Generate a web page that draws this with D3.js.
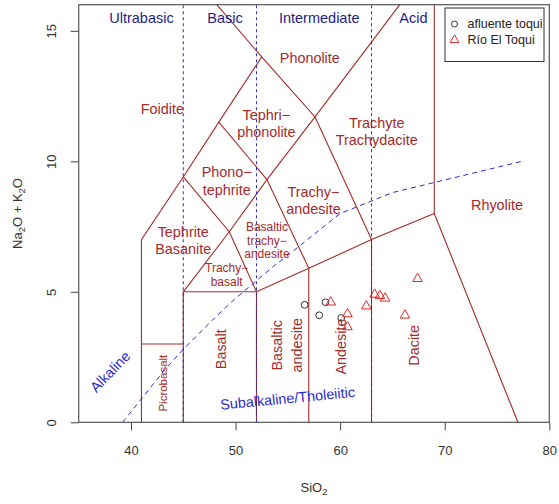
<!DOCTYPE html>
<html>
<head>
<meta charset="utf-8">
<script src="https://cdn.jsdelivr.net/npm/d3@7"></script>
<style>
  body { margin: 0; background: #fff; }
  svg { display: block; font-family: "Liberation Sans", Arial, Helvetica, sans-serif; }
</style>
</head>
<body>
<svg id="chart" width="559" height="504"></svg>
<script>
// samples (SiO2 vs total alkalis)
var afluenteSiO2 = [56.6, 58.0, 58.6, 60.1];
var afluenteAlk  = [4.5, 4.1, 4.6, 4.0];
var toquiSiO2 = [59.1, 60.7, 60.7, 62.5, 63.3, 63.8, 64.3, 66.2, 67.4];
var toquiAlk  = [4.6, 4.15, 3.65, 4.45, 4.9, 4.85, 4.75, 4.1, 5.5];
var seriesNames = ['afluente toqui', 'Río El Toqui'];

var xTicks = [40, 50, 60, 70, 80];
var yTicks = [0, 5, 10, 15];

// TAS field boundaries (Le Bas et al. 1986)
var fieldLines = [
  [[41, 0], [41, 7], [45, 9.4], [48.4, 11.5], [52.5, 14]],
  [[48.2, 16], [52.5, 14], [57.6, 11.7], [63, 7]],
  [[41, 3], [45, 3]],
  [[45, 0], [45, 5], [52, 5], [52, 0]],
  [[52, 5], [57, 5.9], [63, 7], [69, 8], [77, 0]],
  [[57, 0], [57, 5.9]],
  [[63, 0], [63, 7]],
  [[45, 5], [49.4, 7.3], [53, 9.3], [57.6, 11.7], [65.7, 16]],
  [[45, 9.4], [49.4, 7.3], [52, 5]],
  [[48.4, 11.5], [53, 9.3], [57, 5.9]],
  [[69, 8], [69, 16]]
];

// Irvine & Baragar alkaline / subalkaline divide
var divideSiO2 = [39.2, 40, 43.2, 45, 48, 50, 53.7, 55, 60, 65, 77.4];
var divideAlk  = [0, 0.4, 2, 2.8, 4, 4.75, 6, 6.4, 8, 8.8, 10];

var silicaLimits = [45, 52, 63];
var silicaGroups = ['Ultrabasic', 'Basic', 'Intermediate', 'Acid'];
var silicaGroupX = [41, 49, 58, 67];

// field names: lines, SiO2, alkalis
var fieldLabels = [
  [['Foidite'], 43, 12],
  [['Phonolite'], 57.1, 13.95],
  [['Tephri\u2212', 'phonolite'], 52.95, 11.45],
  [['Phono\u2212', 'tephrite'], 49.15, 9.25],
  [['Trachyte', 'Trachydacite'], 63.5, 11.15],
  [['Trachy\u2212', 'andesite'], 57.45, 8.5],
  [['Rhyolite'], 75, 8.33],
  [['Tephrite', 'Basanite'], 45, 6.97],
  [['Basaltic', 'trachy\u2212', 'andesite'], 53, 6.97],
  [['Trachy\u2212', 'basalt'], 49.15, 5.65]
];
var smallFields = [8, 9];   // indexes into fieldLabels drawn smaller

var verticalLabels = [
  ['Picrobasalt', 43.1, 1.5],
  ['Basalt', 48.6, 2.8],
  ['Basaltic', 53.95, 2.95],
  ['andesite', 55.85, 2.95],
  ['Andesite', 60.1, 2.9],
  ['Dacite', 67.1, 2.95]
];

var brown = '#a52a2a',
    navy = '#1e1e8c',
    blue = '#2a2ad0',
    red = '#e02828',
    ink = '#333';

var svg = d3.select('#chart');

var x = d3.scaleLinear().domain([35, 80]).range([78.7, 549.3]);
var y = d3.scaleLinear().domain([0, 16]).range([422.3, 4.7]);

var line = d3.line()
    .x(function (d) { return x(d[0]); })
    .y(function (d) { return y(d[1]); });

// field boundaries
svg.append('g')
    .attr('class', 'fields')
    .selectAll('path')
    .data(fieldLines)
    .join('path')
    .attr('d', line)
    .attr('fill', 'none')
    .attr('stroke', brown)
    .attr('stroke-width', 1.1);

// silica class limits
svg.append('g')
    .selectAll('line')
    .data(silicaLimits)
    .join('line')
    .attr('x1', function (d) { return x(d); })
    .attr('x2', function (d) { return x(d); })
    .attr('y1', y(0))
    .attr('y2', y(16))
    .attr('stroke', blue)
    .attr('stroke-width', 1)
    .attr('stroke-dasharray', '3,3');

// alkaline divide
svg.append('path')
    .datum(d3.zip(divideSiO2, divideAlk))
    .attr('d', line)
    .attr('fill', 'none')
    .attr('stroke', blue)
    .attr('stroke-width', 1)
    .attr('stroke-dasharray', '5,4');

// group names along the top
svg.append('g')
    .selectAll('text')
    .data(silicaGroups)
    .join('text')
    .attr('x', function (d, i) { return x(silicaGroupX[i]); })
    .attr('y', y(15.5))
    .attr('dy', '0.35em')
    .attr('text-anchor', 'middle')
    .attr('font-size', 14.5)
    .attr('fill', navy)
    .text(function (d) { return d; });

// field names
var fl = svg.append('g').attr('class', 'field-labels');
fieldLabels.forEach(function (f, k) {
  var small = smallFields.indexOf(k) >= 0;
  var size = small ? 12 : 14.4;
  var step = small ? 13.5 : 17.3;
  var t = fl.append('text')
      .attr('x', x(f[1]))
      .attr('y', y(f[2]) - (f[0].length - 1) * step / 2)
      .attr('text-anchor', 'middle')
      .attr('font-size', size)
      .attr('fill', brown);
  f[0].forEach(function (s, i) {
    t.append('tspan')
        .attr('x', x(f[1]))
        .attr('dy', i === 0 ? '0.35em' : step)
        .text(s);
  });
});

fl.selectAll('text.vert')
    .data(verticalLabels)
    .join('text')
    .attr('class', 'vert')
    .attr('transform', function (d) {
      return 'translate(' + x(d[1]) + ',' + y(d[2]) + ') rotate(-90)';
    })
    .attr('dy', '0.35em')
    .attr('text-anchor', 'middle')
    .attr('font-size', function (d) { return d[0] === 'Picrobasalt' ? 11.5 : 14.4; })
    .attr('fill', brown)
    .text(function (d) { return d[0]; });

// series names on the divide
svg.append('text')
    .attr('transform', 'translate(' + x(38) + ',' + y(1.94) + ') rotate(-46)')
    .attr('dy', '0.35em')
    .attr('text-anchor', 'middle')
    .attr('font-size', 14.4)
    .attr('fill', blue)
    .text('Alkaline');

svg.append('text')
    .attr('transform', 'translate(' + x(54.97) + ',' + y(0.92) + ') rotate(-5.5)')
    .attr('dy', '0.35em')
    .attr('text-anchor', 'middle')
    .attr('font-size', 14.4)
    .attr('fill', blue)
    .text('Subalkaline/Tholeiitic');

// points
var tri = d3.symbol().type(d3.symbolTriangle).size(40);

svg.append('g')
    .selectAll('circle')
    .data(d3.zip(afluenteSiO2, afluenteAlk))
    .join('circle')
    .attr('cx', function (d) { return x(d[0]); })
    .attr('cy', function (d) { return y(d[1]); })
    .attr('r', 3.4)
    .attr('fill', 'none')
    .attr('stroke', ink)
    .attr('stroke-width', 1);

svg.append('g')
    .selectAll('path')
    .data(d3.zip(toquiSiO2, toquiAlk))
    .join('path')
    .attr('d', tri)
    .attr('transform', function (d) { return 'translate(' + x(d[0]) + ',' + y(d[1]) + ')'; })
    .attr('fill', 'none')
    .attr('stroke', red)
    .attr('stroke-width', 1);

// axes
var xAxis = svg.append('g')
    .attr('transform', 'translate(0,' + y(0) + ')')
    .call(d3.axisBottom(x).tickValues(xTicks).tickSize(8).tickPadding(15));
var yAxis = svg.append('g')
    .attr('transform', 'translate(' + x(35) + ',0)')
    .call(d3.axisLeft(y).tickValues(yTicks).tickSize(8));

[xAxis, yAxis].forEach(function (a) {
  a.select('.domain').remove();
  a.selectAll('line').attr('stroke', '#444');
  a.selectAll('text').attr('fill', ink).attr('font-size', 13)
      .attr('font-family', '"Liberation Sans", Arial, sans-serif');
});
yAxis.selectAll('text')
    .attr('x', null)
    .attr('dy', '0.35em')
    .attr('text-anchor', 'middle')
    .attr('transform', 'translate(-27,0) rotate(-90)');

// plot box
svg.append('rect')
    .attr('x', x(35))
    .attr('y', y(16))
    .attr('width', x(80) - x(35))
    .attr('height', y(0) - y(16))
    .attr('fill', 'none')
    .attr('stroke', '#555')
    .attr('stroke-width', 1.2);

// axis titles
var xt = svg.append('text')
    .attr('x', (x(35) + x(80)) / 2)
    .attr('y', 492)
    .attr('text-anchor', 'middle')
    .attr('font-size', 13)
    .attr('fill', ink);
xt.append('tspan').text('SiO');
xt.append('tspan').attr('dy', 3).attr('font-size', 9.5).text('2');

var yt = svg.append('text')
    .attr('transform', 'translate(22,' + (y(0) + y(16)) / 2 + ') rotate(-90)')
    .attr('text-anchor', 'middle')
    .attr('font-size', 13)
    .attr('fill', ink);
yt.append('tspan').text('Na');
yt.append('tspan').attr('dy', 3).attr('font-size', 9.5).text('2');
yt.append('tspan').attr('dy', -3).text('O + K');
yt.append('tspan').attr('dy', 3).attr('font-size', 9.5).text('2');
yt.append('tspan').attr('dy', -3).text('O');

// legend
var lg = svg.append('g').attr('transform', 'translate(445,8)');
lg.append('rect')
    .attr('width', 99)
    .attr('height', 53.5)
    .attr('fill', '#fff')
    .attr('stroke', ink)
    .attr('stroke-width', 1);
var items = lg.selectAll('g.item')
    .data(seriesNames)
    .join('g')
    .attr('class', 'item')
    .attr('transform', function (d, i) { return 'translate(9.5,' + (16 + i * 16) + ')'; });
items.filter(function (d, i) { return i === 0; })
    .append('circle')
    .attr('r', 3)
    .attr('fill', 'none')
    .attr('stroke', ink);
items.filter(function (d, i) { return i === 1; })
    .append('path')
    .attr('d', d3.symbol().type(d3.symbolTriangle).size(34))
    .attr('fill', 'none')
    .attr('stroke', red);
items.append('text')
    .attr('x', 13)
    .attr('dy', '0.35em')
    .attr('font-size', 12.5)
    .attr('fill', '#222')
    .text(function (d) { return d; });
</script>
</body>
</html>
